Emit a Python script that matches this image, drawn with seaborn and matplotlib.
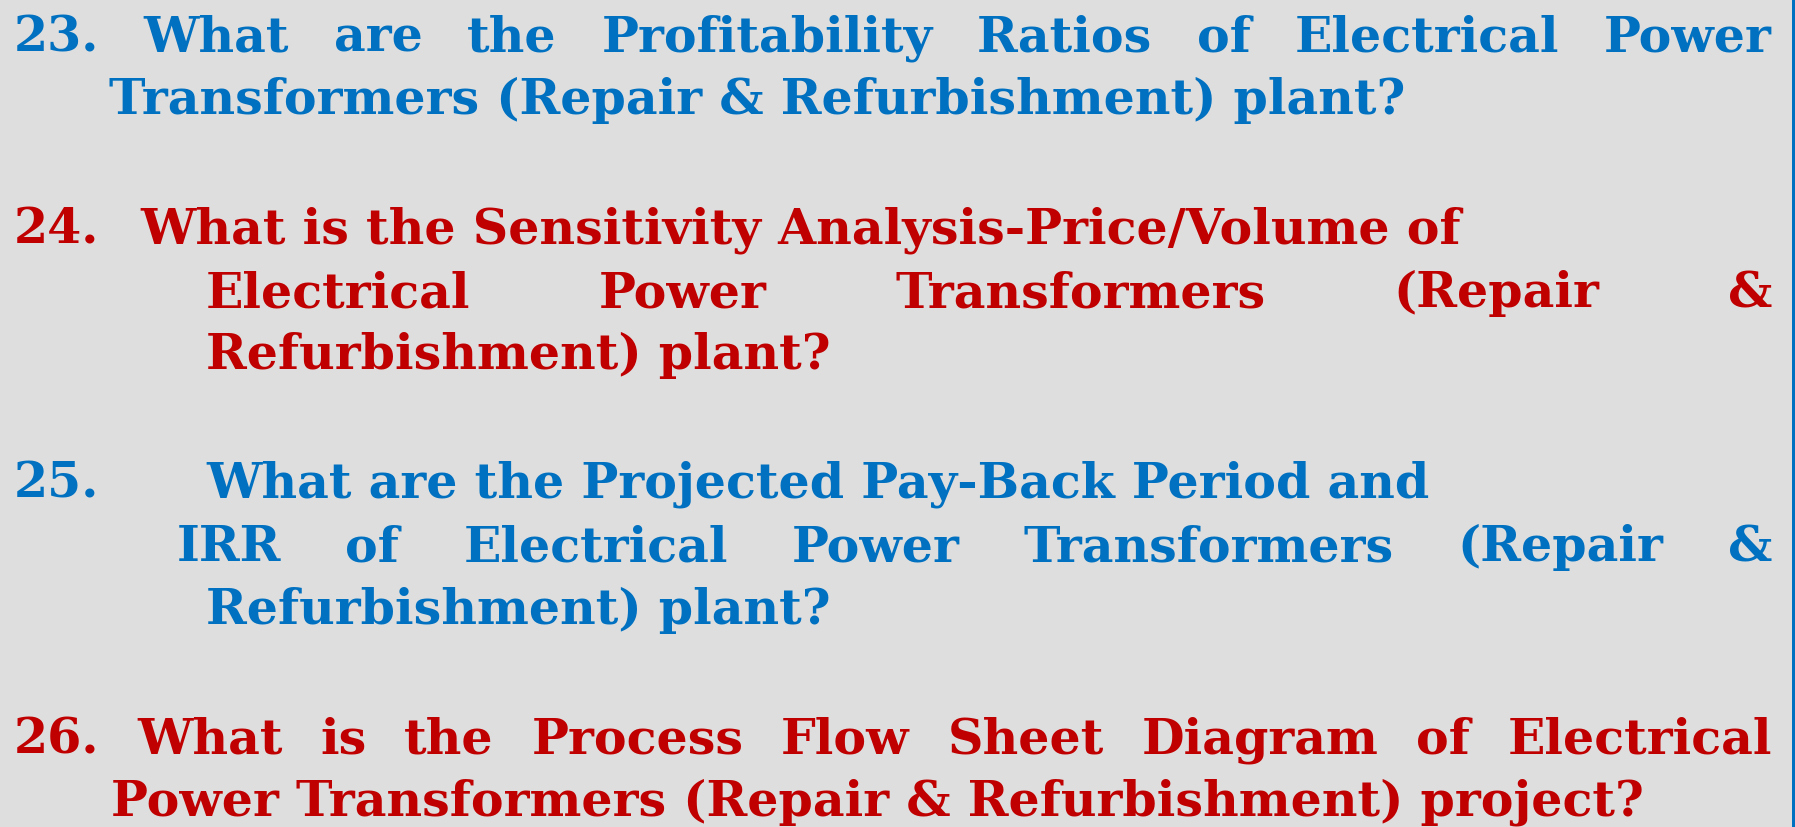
import matplotlib
matplotlib.use("Agg")
import matplotlib.pyplot as plt
import seaborn as sns

sns.set_theme(style="white")
plt.rcParams['font.family'] = ['DejaVu Serif']

# ==================== 颜色 ====================
BG = "#DEDEDE"
BLUE = "#0070C0"
RED = "#C00000"

# ==================== 文本内容 ====================
NUMBERS = ["23.", "24.", "25.", "26."]
COLORS = [BLUE, RED, BLUE, RED]
LINES = [
    ["What are the Profitability Ratios of Electrical Power",
     "Transformers (Repair & Refurbishment) plant?"],
    ["What is the Sensitivity Analysis-Price/Volume of",
     "Electrical Power Transformers (Repair &",
     "Refurbishment) plant?"],
    ["What are the Projected Pay-Back Period and",
     "IRR of Electrical Power Transformers (Repair &",
     "Refurbishment) plant?"],
    ["What is the Process Flow Sheet Diagram of Electrical",
     "Power Transformers (Repair & Refurbishment) project?"],
]
JUSTIFY = [[True, False], [False, True, False], [False, True, False], [True, False]]

# ==================== 版式 (像素) ====================
W, H = 1795, 827
NUM_X = 14
RIGHT_X = 1772
LINE_X = [[137, 109], [140, 206, 206], [206, 177, 206], [164, 111]]
BASELINES = [[51, 114], [243, 307, 369], [498, 561, 624], [753, 815]]

fig = plt.figure(figsize=(W / 100, H / 100), dpi=100)
fig.patch.set_facecolor(BG)
ax = fig.add_axes([0, 0, 1, 1])
ax.set_xlim(0, W)
ax.set_ylim(H, 0)
ax.axis("off")
renderer = fig.canvas.get_renderer()


def text_width(s, size):
    t = ax.text(0, 0, s, fontsize=size, fontweight="bold")
    w = t.get_window_extent(renderer).width
    t.remove()
    return w


# 按参考图中一行的宽度确定字号
fs = 36 * 1297 / text_width("Transformers (Repair & Refurbishment) plant?", 36)


def draw_justified(words, x0, x1, y, color):
    widths = [text_width(w, fs) for w in words]
    gap = (x1 - x0 - sum(widths)) / (len(words) - 1)
    x = x0
    for w, wd in zip(words, widths):
        ax.text(x, y, w, fontsize=fs, fontweight="bold", color=color, va="baseline", ha="left")
        x += wd + gap


for num, color, lines, just, xs, ys in zip(NUMBERS, COLORS, LINES, JUSTIFY, LINE_X, BASELINES):
    for i, (line, j, x, y) in enumerate(zip(lines, just, xs, ys)):
        if i == 0 and j:
            draw_justified([num] + line.split(), NUM_X, RIGHT_X, y, color)
            continue
        if i == 0:
            ax.text(NUM_X, y, num, fontsize=fs, fontweight="bold", color=color, va="baseline")
        if j:
            draw_justified(line.split(), x, RIGHT_X, y, color)
        else:
            ax.text(x, y, line, fontsize=fs, fontweight="bold", color=color, va="baseline")

# 右侧蓝色边线
ax.add_patch(plt.Rectangle((W - 3, 0), 3, H, color=BLUE, lw=0, clip_on=False))

fig.savefig("out.png", dpi=100, facecolor=BG)
plt.close(fig)
